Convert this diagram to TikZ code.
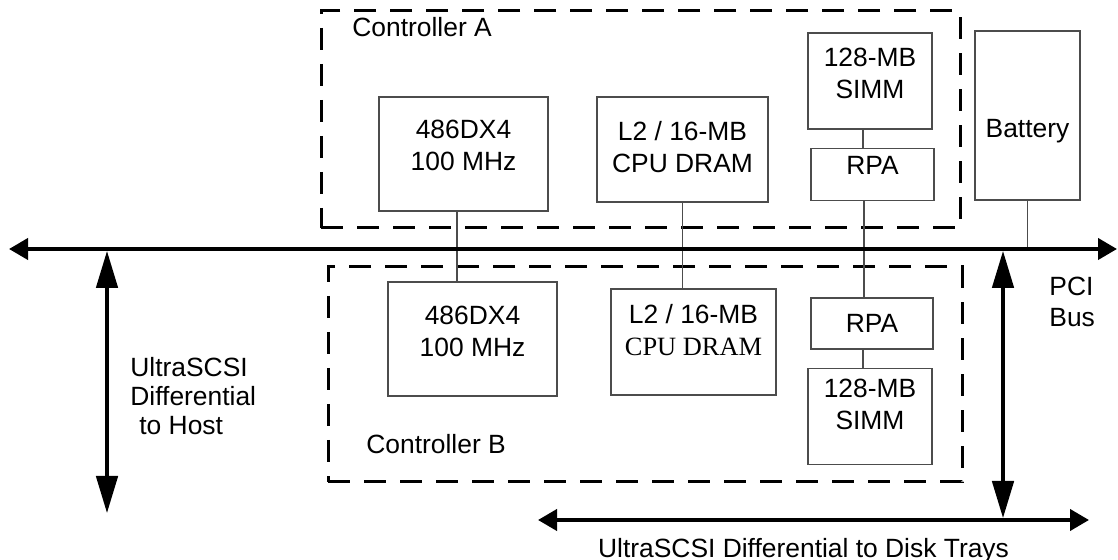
\documentclass[tikz,border=0pt]{standalone}
\usepackage{fontspec}
\setmainfont{Liberation Sans}
\newfontfamily\timesfont{Liberation Serif}
\usetikzlibrary{positioning}
\usetikzlibrary{arrows.meta}

% pushes the text of a box up by the given amount
\newcommand{\lift}[1]{\rule[-#1]{0pt}{0pt}}

\tikzset{
  box/.style={draw=black!70, line width=0.6pt, rectangle, inner sep=0pt, align=center, font=\fontsize{13.2pt}{16pt}\selectfont},
  ctrl/.style={draw, line width=1.5pt, dash pattern=on 11pt off 7pt, rectangle, inner sep=0pt},
  lbl/.style={inner sep=0pt, font=\fontsize{13.2pt}{15.5pt}\selectfont},
  wire/.style={draw=black!70, line width=0.6pt},
  bus/.style={line width=2pt, {Triangle[length=9.5pt,width=10.5pt]}-{Triangle[length=9.5pt,width=10.5pt]}},
  scsi/.style={line width=1.6pt, {Triangle[length=18.5pt,width=10.75pt]}-{Triangle[length=18.5pt,width=10.75pt]}},
}

\begin{document}
\begin{tikzpicture}[x=0.5pt, y=-0.5pt]
    \useasboundingbox (0,0) rectangle (1118,560);
% controller A
    \node[ctrl, minimum width=319.5pt, minimum height=108.5pt] (ctrlA) at (640.5,119.5) {} ; %
    \node[lbl, anchor=base west] (ctrlA_label) at (352,37) {Controller A} ; %
    \node[box, minimum width=84.5pt, minimum height=57pt] (cpuA) at (463.5,154) {486DX4\\100 MHz\lift{8.5pt}} ; %
    \node[box, minimum width=85.5pt, minimum height=52.5pt] (dramA) at (682.5,149.5) {L2 / 16-MB\\CPU DRAM\lift{3pt}} ; %
    \node[box, minimum width=62pt, minimum height=48pt] (simmA) at (870,81) {128-MB\\SIMM\lift{7.5pt}} ; %
    \node[box, below=9pt of simmA, xshift=1.25pt, minimum width=61.5pt, minimum height=26pt] (rpaA) {RPA\lift{8.5pt}} ; %
    \node[box, minimum width=52.5pt, minimum height=84.5pt] (battery) at (1027.5,115.5) {\rule{0pt}{24.5pt}Battery} ; %
% controller B
    \node[ctrl, minimum width=317pt, minimum height=107.5pt] (ctrlB) at (645,374.5) {} ; %
    \node[lbl, anchor=base west] (ctrlB_label) at (366,454) {Controller B} ; %
    \node[box, minimum width=84.5pt, minimum height=57pt] (cpuB) at (472.5,339) {486DX4\\100 MHz\lift{7.5pt}} ; %
    \node[box, minimum width=82.5pt, minimum height=53pt] (dramB) at (693.5,342) {L2 / 16-MB\\{\timesfont CPU DRAM}\lift{12.5pt}} ; %
    \node[box, minimum width=61pt, minimum height=25.5pt] (rpaB) at (872,323.5) {RPA} ; %
    \node[box, below=9pt of rpaB, xshift=-1pt, minimum width=62pt, minimum height=48pt] (simmB) {128-MB\\SIMM\lift{11.5pt}} ; %
% buses
    \coordinate (busL) at (9,249) ;
    \coordinate (busR) at (1117,249) ;
    \coordinate (hostT) at (107,251) ;
    \coordinate (hostB) at (107,513) ;
    \coordinate (diskT) at (1003,251) ;
    \coordinate (diskB) at (1003,518) ;
    \coordinate (trayL) at (538,520) ;
    \coordinate (trayR) at (1089,520) ;
    \node[lbl, anchor=north west, align=left] (bus_description) at (1049,277) {PCI\\Bus} ; %
    \node[lbl, anchor=north west, align=left, font=\fontsize{13.2pt}{14.5pt}\selectfont] (host_description) at (130,357) {UltraSCSI\\Differential\\\hspace*{4.5pt}to Host} ; %
    \node[lbl, anchor=base] (trays_description) at (803.5,557) {UltraSCSI Differential to Disk Trays} ; %
% edges
    \draw[wire] ([xshift=-3.25pt]cpuA.south) -- ([xshift=-3.25pt]cpuA.south |- cpuB.north) ; %
    \draw[wire] (dramA.south) -- (dramA.south |- dramB.north) ; %
    \draw[wire] ([xshift=-3.5pt]simmA.south) -- ([xshift=-3.5pt]simmA.south |- rpaA.north) ; %
    \draw[wire] ([xshift=-4.25pt]rpaA.south) -- ([xshift=-4.25pt]rpaA.south |- rpaB.north) ; %
    \draw[wire] ([xshift=-4.5pt]rpaB.south) -- ([xshift=-4.5pt]rpaB.south |- simmB.north) ; %
    \draw[wire] (battery.south) -- (battery.south |- busR) ; %
    \draw[bus] (busL) -- (busR) ; %
    \draw[scsi] (hostT) -- (hostB) ; %
    \draw[scsi] (diskT) -- (diskB) ; %
    \draw[bus] (trayL) -- (trayR) ; %
\end{tikzpicture}
\end{document}
